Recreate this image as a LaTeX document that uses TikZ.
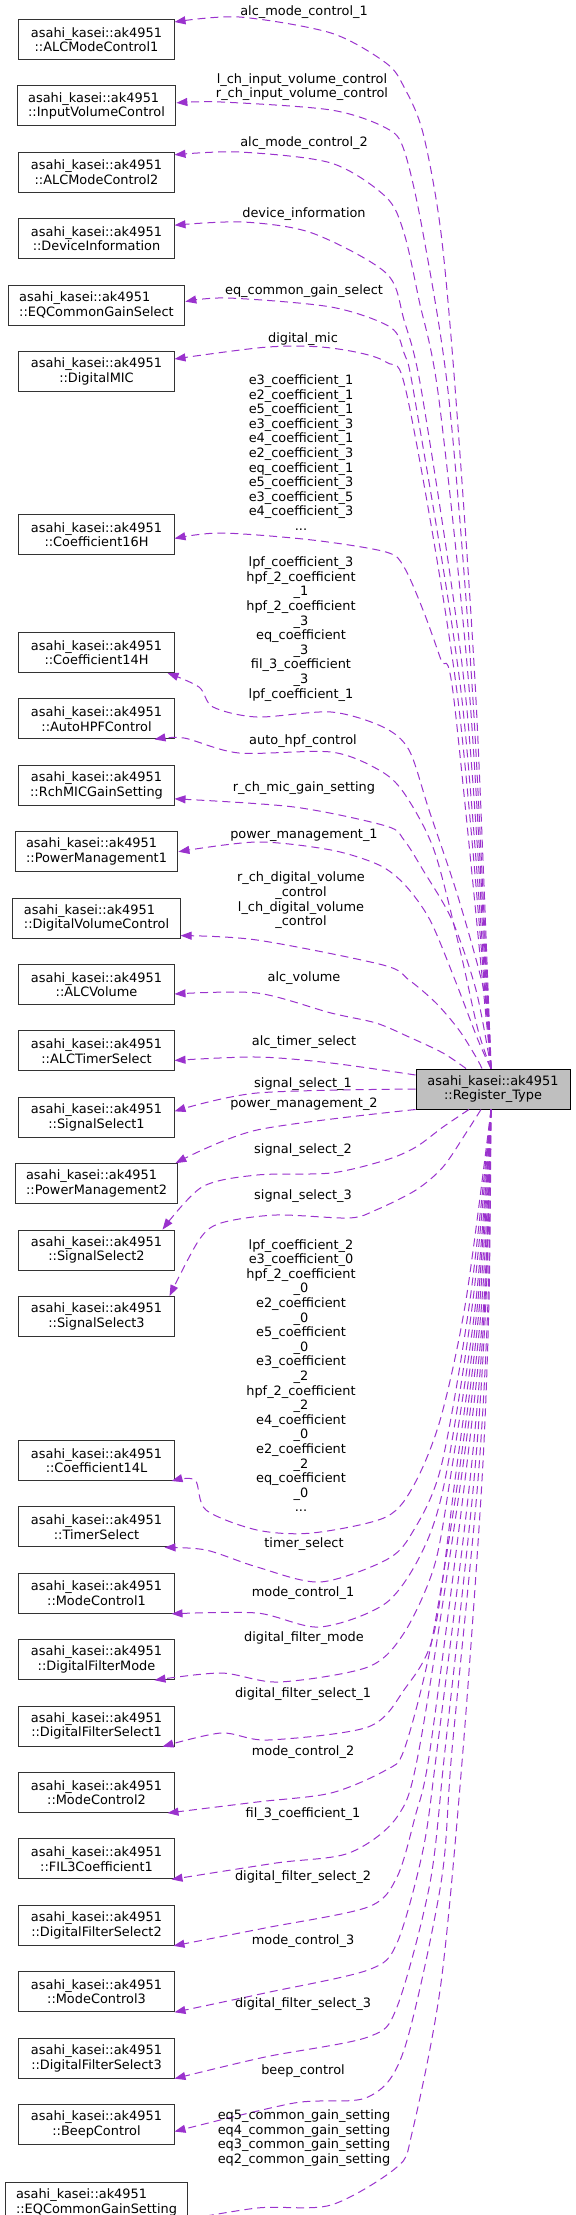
\documentclass[tikz,border=0pt]{standalone}
\usepackage{fontspec}
\setmainfont{DejaVu Sans}
\usetikzlibrary{arrows.meta,positioning}
\definecolor{dxpurple}{HTML}{9A32CD}
\definecolor{dxgray}{HTML}{BFBFBF}
\tikzset{
  font=\fontsize{12.9bp}{14.6bp}\selectfont,
  cls/.style   ={draw=black!80, line width=1bp, minimum height=40bp, minimum width=155bp, align=center, inner sep=0pt},
  clsw/.style  ={draw=black!80, line width=1bp, minimum height=40bp, align=left, inner xsep=11bp, inner ysep=0pt},
  regbox/.style={draw=black, line width=1bp, minimum height=40bp, minimum width=154bp, align=center, inner sep=0pt, fill=dxgray},
  rel/.style   ={-{Triangle[length=11bp,width=8bp]}, dxpurple, line width=1bp, dash pattern=on 8bp off 5bp},
  lbl/.style   ={inner sep=0pt, align=center},
}

\begin{document}
\begin{tikzpicture}[x=1bp, y=-1bp, node distance=25.4bp]
  \useasboundingbox (0,0) rectangle (576,2215);
  % class boxes, left column
  \node[cls] (amc1) at (96.5,39.5) {asahi\_kasei::ak4951\\::ALCModeControl1};
  \node[clsw, below=of amc1] (ivc) {asahi\_kasei::ak4951\\::InputVolumeControl};
  \node[cls, below=of ivc] (amc2) {asahi\_kasei::ak4951\\::ALCModeControl2};
  \node[cls, below=of amc2] (devinf) {asahi\_kasei::ak4951\\::DeviceInformation};
  \node[clsw, below=of devinf] (eqsel) {asahi\_kasei::ak4951\\::EQCommonGainSelect};
  \node[cls, below=of eqsel] (dmic) {asahi\_kasei::ak4951\\::DigitalMIC};
  \node[cls, below=122bp of dmic] (c16h) {asahi\_kasei::ak4951\\::Coefficient16H};
  \node[cls, below=77bp of c16h] (c14h) {asahi\_kasei::ak4951\\::Coefficient14H};
  \node[cls, below=of c14h] (ahpf) {asahi\_kasei::ak4951\\::AutoHPFControl};
  \node[cls, below=of ahpf] (rmic) {asahi\_kasei::ak4951\\::RchMICGainSetting};
  \node[clsw, below=of rmic] (pm1) {asahi\_kasei::ak4951\\::PowerManagement1};
  \node[clsw, below=of pm1] (dvc) {asahi\_kasei::ak4951\\::DigitalVolumeControl};
  \node[cls, below=of dvc] (alcv) {asahi\_kasei::ak4951\\::ALCVolume};
  \node[cls, below=of alcv] (alcts) {asahi\_kasei::ak4951\\::ALCTimerSelect};
  \node[cls, below=of alcts] (ss1) {asahi\_kasei::ak4951\\::SignalSelect1};
  \node[clsw, below=of ss1] (pm2) {asahi\_kasei::ak4951\\::PowerManagement2};
  \node[cls, below=of pm2] (ss2) {asahi\_kasei::ak4951\\::SignalSelect2};
  \node[cls, below=of ss2] (ss3) {asahi\_kasei::ak4951\\::SignalSelect3};
  \node[cls, below=103bp of ss3] (c14l) {asahi\_kasei::ak4951\\::Coefficient14L};
  \node[cls, below=of c14l] (tsel) {asahi\_kasei::ak4951\\::TimerSelect};
  \node[cls, below=of tsel] (mc1) {asahi\_kasei::ak4951\\::ModeControl1};
  \node[cls, below=of mc1] (dfm) {asahi\_kasei::ak4951\\::DigitalFilterMode};
  \node[cls, below=of dfm] (dfs1) {asahi\_kasei::ak4951\\::DigitalFilterSelect1};
  \node[cls, below=of dfs1] (mc2) {asahi\_kasei::ak4951\\::ModeControl2};
  \node[cls, below=of mc2] (fil3) {asahi\_kasei::ak4951\\::FIL3Coefficient1};
  \node[cls, below=of fil3] (dfs2) {asahi\_kasei::ak4951\\::DigitalFilterSelect2};
  \node[cls, below=of dfs2] (mc3) {asahi\_kasei::ak4951\\::ModeControl3};
  \node[cls, below=of mc3] (dfs3) {asahi\_kasei::ak4951\\::DigitalFilterSelect3};
  \node[cls, below=of dfs3] (beep) {asahi\_kasei::ak4951\\::BeepControl};
  \node[clsw, below=37bp of beep] (eqset) {asahi\_kasei::ak4951\\::EQCommonGainSetting};
  % the register type
  \node[regbox] (regt) at (493,1089) {asahi\_kasei::ak4951\\::Register\_Type};
  \coordinate (rtop) at ([xshift=-2bp]regt.north);
  \coordinate (rbot) at ([xshift=-2bp]regt.south);

  % members above
  \draw[rel] plot[smooth] coordinates {(rtop) (476,700) (456,400) (441,233) (423,133) (404,87) (386,63) (331,33) (239,17) ([yshift=-3bp]amc1.north east)};
  \draw[rel] plot[smooth] coordinates {(rtop) (473,700) (449,400) (423,233) (404,150) (386,128) (331,110) (221,102) ([yshift=3bp]ivc.east)};
  \draw[rel] plot[smooth] coordinates {(rtop) (470,700) (439,400) (419,300) (404,233) (386,197) (331,163) (239,152) ([yshift=-3bp]amc2.north east)};
  \draw[rel] plot[smooth] coordinates {(rtop) (466,700) (423,400) (404,320) (386,273) (312,233) (243,222) ([yshift=-7bp]devinf.north east)};
  \draw[rel] plot[smooth] coordinates {(rtop) (462,700) (415,400) (404,353) (390,327) (331,307) (228,298) ([yshift=3.5bp]eqsel.east)};
  \draw[rel] plot[smooth] coordinates {(rtop) (458,700) (408,400) (386,362) (331,348) (268,347) ([yshift=-8bp]dmic.north east)};
  \draw[rel] plot[smooth] coordinates {(rtop) (454,700) (441,660) (423,610) (404,567) (386,552) (312,540) (221,533) ([yshift=-4bp]c16h.east)};
  \draw[rel] plot[smooth] coordinates {(rtop) (486,1000) (459,900) (429,810) (409,750) (383,727) (331,712) (257,717) (213,707) (199,687) ([xshift=-7bp]c14h.south east)};
  \draw[rel] plot[smooth] coordinates {(rtop) (478,1030) (460,950) (434,850) (404,793) (379,770) (331,752) (239,753) (184,738) ([xshift=-20bp]ahpf.south east)};
  \draw[rel] plot[smooth] coordinates {(rtop) (476,990) (452,920) (423,870) (404,840) (386,826) (294,807) ([yshift=7bp]rmic.south east)};
  \draw[rel] plot[smooth] coordinates {(rtop) (478,1040) (455,980) (430,920) (405,885) (379,865) (331,850) (257,842) (pm1.east)};
  \draw[rel] plot[smooth] coordinates {([xshift=-11bp]regt.north) (476,1057) (459,1030) (436,1003) (409,980) (383,965) (257,940) ([yshift=3bp]dvc.south east)};
  \draw[rel] plot[smooth] coordinates {([xshift=-27bp]regt.north) (443,1053) (409,1037) (376,1023) (331,1013) (257,993) ([yshift=11bp]alcv.south east)};
  \draw[rel] plot[smooth] coordinates {([yshift=14bp]regt.west) (331,1063) (257,1057) ([yshift=11bp]alcts.south east)};
  \draw[rel] plot[smooth] coordinates {(regt.west) (257,1093) ([yshift=6bp]ss1.east)};
  \draw[rel] plot[smooth] coordinates {(regt.south west) (257,1130) ([xshift=-3bp]pm2.north east)};
  \draw[rel] plot[smooth] coordinates {([xshift=-24bp]regt.south) (443,1127) (416,1147) (386,1160) (331,1173) (257,1175) (202,1187) ([xshift=-12bp]ss2.north east)};
  \draw[rel] plot[smooth] coordinates {([xshift=-12bp]regt.south) (466,1133) (443,1167) (416,1190) (376,1210) (349,1218) (276,1215) (221,1223) (199,1240) ([xshift=-5bp]ss3.north east)};
  % members below
  \draw[rel] plot[smooth] coordinates {(rbot) (466,1300) (441,1417) (415,1483) (386,1517) (312,1533) (257,1530) (206,1510) (195,1480) ([xshift=-3bp]c14l.south east)};
  \draw[rel] plot[smooth] coordinates {(rbot) (470,1300) (441,1467) (412,1533) (386,1560) (320,1582) (257,1567) (206,1550) ([xshift=-10bp]tsel.south east)};
  \draw[rel] plot[smooth] coordinates {(rbot) (473,1300) (445,1480) (423,1550) (386,1603) (320,1627) (257,1613) ([xshift=-3bp]mc1.south east)};
  \draw[rel] plot[smooth] coordinates {(rbot) (476,1300) (450,1480) (434,1567) (404,1633) (368,1667) (279,1682) (221,1673) ([xshift=-20bp]dfm.south east)};
  \draw[rel] plot[smooth] coordinates {(rbot) (478,1300) (455,1480) (434,1633) (404,1690) (368,1727) (268,1740) (221,1733) ([xshift=-12bp]dfs1.south east)};
  \draw[rel] plot[smooth] coordinates {(rbot) (480,1300) (458,1480) (430,1650) (404,1750) (386,1770) (331,1793) (257,1802) ([xshift=-7bp]mc2.south east)};
  \draw[rel] plot[smooth] coordinates {(rbot) (482,1300) (461,1480) (419,1750) (397,1817) (349,1853) (276,1863) ([xshift=-3bp]fil3.south east)};
  \draw[rel] plot[smooth] coordinates {(rbot) (484,1300) (465,1480) (430,1750) (415,1817) (397,1877) (368,1907) (265,1928) ([xshift=-1bp]dfs2.south east)};
  \draw[rel] plot[smooth] coordinates {(rbot) (485,1300) (470,1480) (437,1750) (423,1850) (397,1943) (368,1970) (265,1993) (mc3.south east)};
  \draw[rel] plot[smooth] coordinates {(rbot) (486,1300) (474,1480) (445,1750) (430,1883) (397,2007) (368,2037) (265,2057) (dfs3.south east)};
  \draw[rel] plot[smooth] coordinates {(rbot) (488,1300) (478,1480) (452,1750) (441,1883) (404,2050) (368,2097) (294,2103) ([yshift=-7bp]beep.east)};
  \draw[rel] plot[smooth] coordinates {(rbot) (489,1300) (482,1480) (463,1750) (441,1983) (412,2133) (397,2167) (331,2205) (257,2208) ([xshift=-21bp]eqset.south east)};

  % member names
  \node[lbl] (lamc1) at (304,12) {alc\_mode\_control\_1};
  \node[lbl] (livc) at (302,87) {l\_ch\_input\_volume\_control\\r\_ch\_input\_volume\_control};
  \node[lbl] (lamc2) at (304,143) {alc\_mode\_control\_2};
  \node[lbl] (ldevinf) at (304,214) {device\_information};
  \node[lbl] (leqsel) at (304,291) {eq\_common\_gain\_select};
  \node[lbl] (ldmic) at (303,339) {digital\_mic};
  \node[lbl] (lc16h) at (301,452.5) {e3\_coefficient\_1\\e2\_coefficient\_1\\e5\_coefficient\_1\\e3\_coefficient\_3\\e4\_coefficient\_1\\e2\_coefficient\_3\\eq\_coefficient\_1\\e5\_coefficient\_3\\e3\_coefficient\_5\\e4\_coefficient\_3\\...};
  \node[lbl] (lc14h) at (301,629) {lpf\_coefficient\_3\\hpf\_2\_coefficient\\\_1\\hpf\_2\_coefficient\\\_3\\eq\_coefficient\\\_3\\fil\_3\_coefficient\\\_3\\lpf\_coefficient\_1};
  \node[lbl] (lahpf) at (303,741) {auto\_hpf\_control};
  \node[lbl] (lrmic) at (304,788) {r\_ch\_mic\_gain\_setting};
  \node[lbl] (lpm1) at (304,835) {power\_management\_1};
  \node[lbl] (ldvc) at (301,900.5) {r\_ch\_digital\_volume\\\_control\\l\_ch\_digital\_volume\\\_control};
  \node[lbl] (lalcv) at (304,978) {alc\_volume};
  \node[lbl] (lalcts) at (304,1042) {alc\_timer\_select};
  \node[lbl] (lss1) at (303,1084) {signal\_select\_1};
  \node[lbl] (lpm2) at (304,1104) {power\_management\_2};
  \node[lbl] (lss2) at (303,1150) {signal\_select\_2};
  \node[lbl] (lss3) at (303,1196) {signal\_select\_3};
  \node[lbl] (lc14l) at (301,1375.5) {lpf\_coefficient\_2\\e3\_coefficient\_0\\hpf\_2\_coefficient\\\_0\\e2\_coefficient\\\_0\\e5\_coefficient\\\_0\\e3\_coefficient\\\_2\\hpf\_2\_coefficient\\\_2\\e4\_coefficient\\\_0\\e2\_coefficient\\\_2\\eq\_coefficient\\\_0\\...};
  \node[lbl] (ltsel) at (304,1544) {timer\_select};
  \node[lbl] (lmc1) at (303,1593) {mode\_control\_1};
  \node[lbl] (ldfm) at (304,1638) {digital\_filter\_mode};
  \node[lbl] (ldfs1) at (303,1694) {digital\_filter\_select\_1};
  \node[lbl] (lmc2) at (303,1752) {mode\_control\_2};
  \node[lbl] (lfil3) at (303,1814) {fil\_3\_coefficient\_1};
  \node[lbl] (ldfs2) at (303,1877) {digital\_filter\_select\_2};
  \node[lbl] (lmc3) at (303,1941) {mode\_control\_3};
  \node[lbl] (ldfs3) at (303,2004) {digital\_filter\_select\_3};
  \node[lbl] (lbeep) at (303,2071) {beep\_control};
  \node[lbl] (leqset) at (304,2138) {eq5\_common\_gain\_setting\\eq4\_common\_gain\_setting\\eq3\_common\_gain\_setting\\eq2\_common\_gain\_setting};
\end{tikzpicture}
\end{document}
